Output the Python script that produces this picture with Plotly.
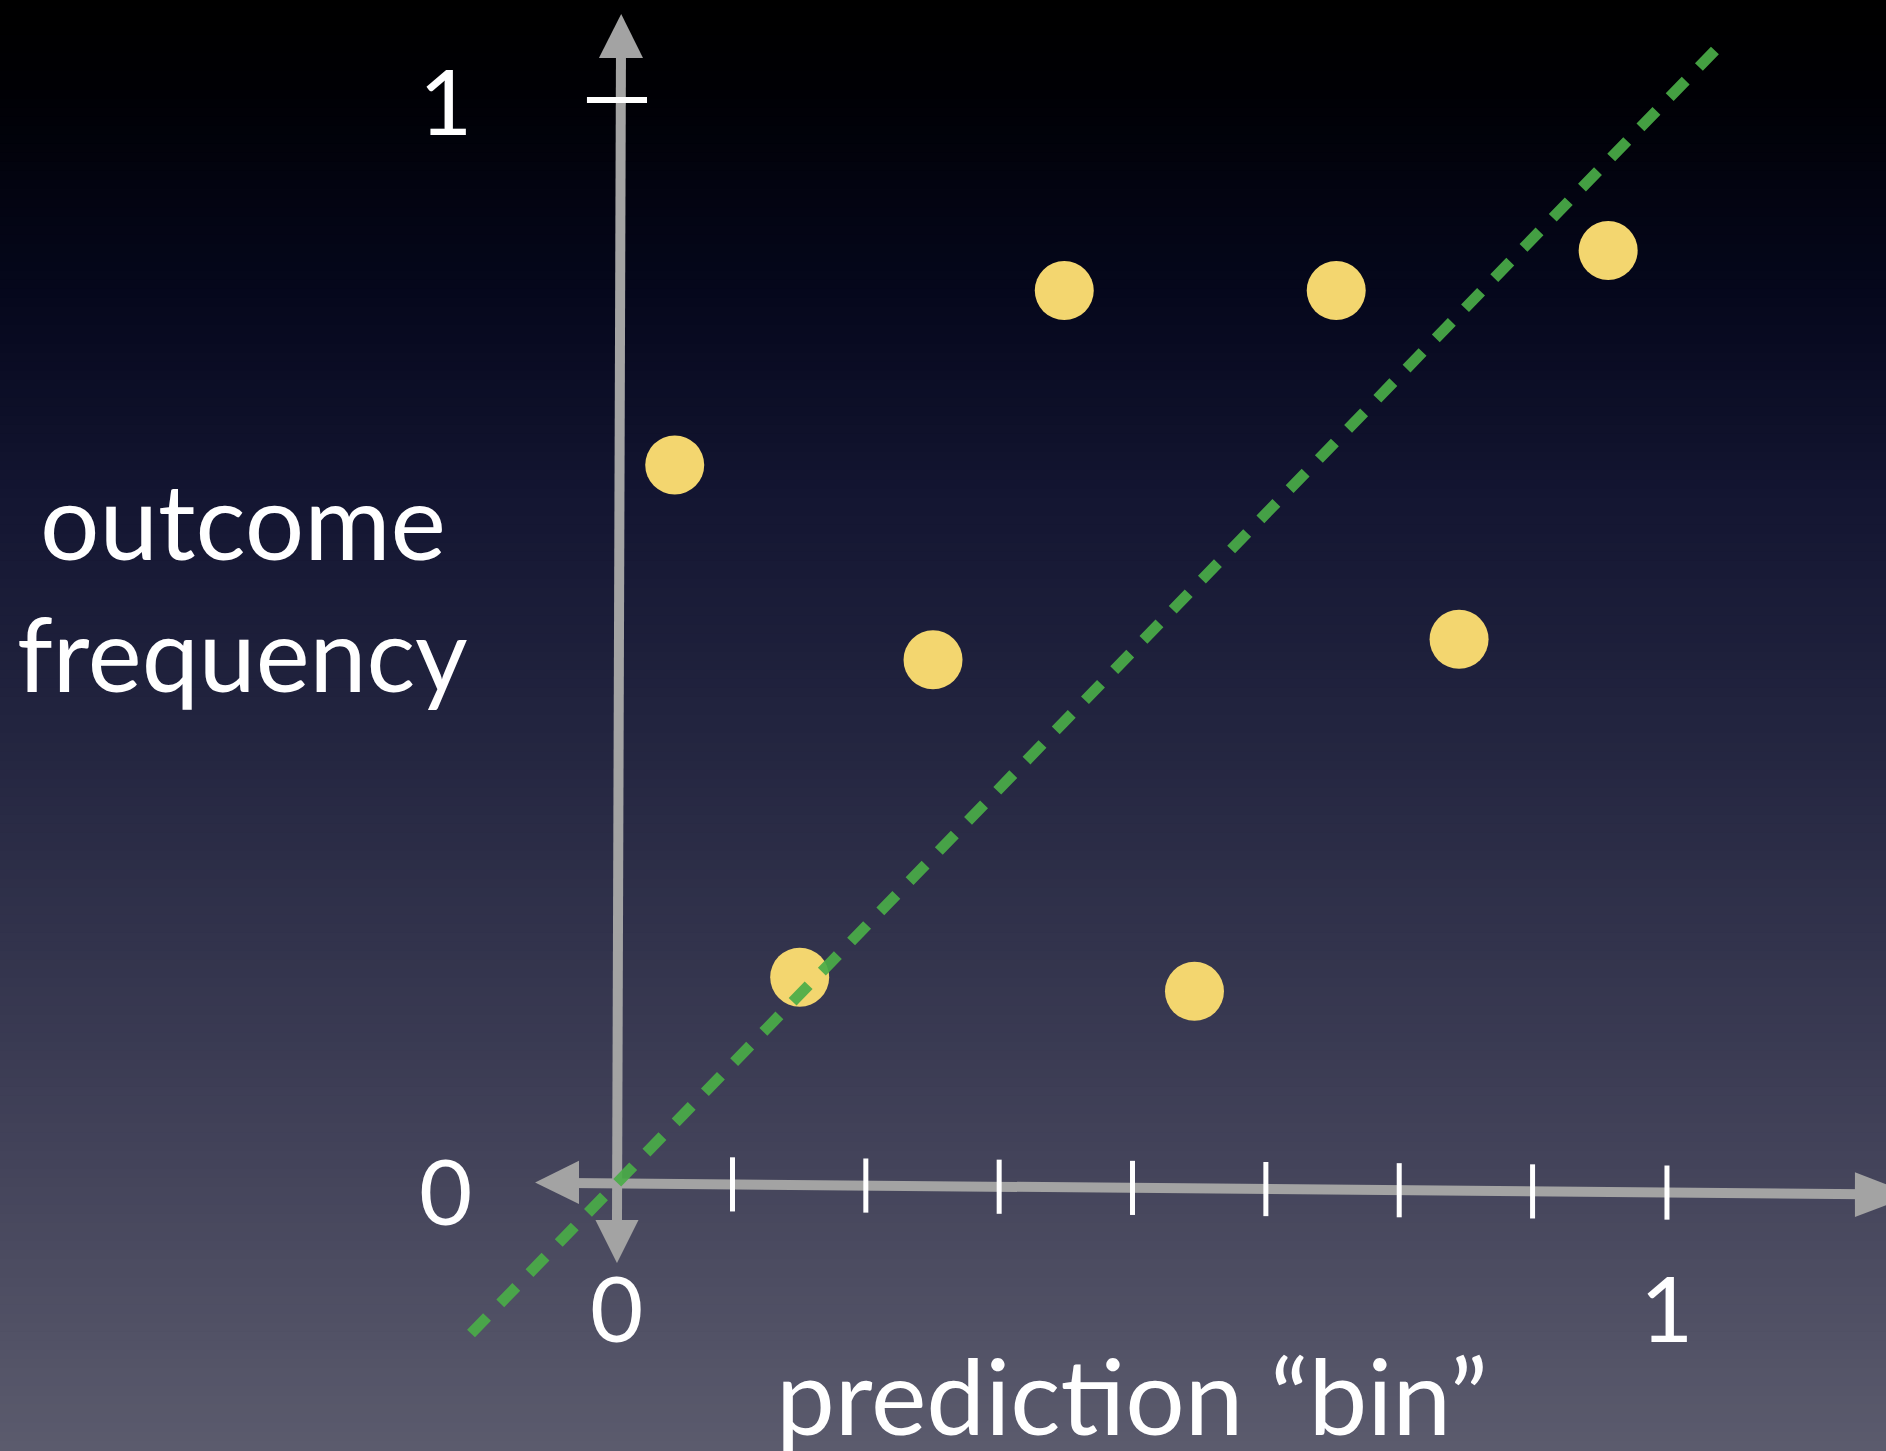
import plotly.graph_objects as go

# ---------------- data ----------------
bin_centers = [0.055, 0.174, 0.301, 0.426, 0.550, 0.685, 0.802, 0.944]
outcome_freq = [0.663, 0.190, 0.483, 0.824, 0.177, 0.824, 0.502, 0.861]
tick_positions = [0.11, 0.237, 0.364, 0.491, 0.618, 0.745, 0.872, 1.0]
diag_x = [-0.139, 1.055]
diag_y = [-0.139, 1.055]
x_title = "prediction “bin”"
y_title_lines = ["outcome", "frequency"]
x_tick_labels = ["0", "1"]
y_tick_labels = ["0", "1"]

W, H = 1886, 1451
X_RANGE = [-0.5876, 1.2086]
Y_RANGE = [-0.2475, 1.0923]
FONT = "Lato, 'Open Sans', sans-serif"
AXIS_GREY = "#a3a3a3"

fig = go.Figure()

# ---------------- gradient background ----------------
stops = [
    (0.00, (0, 0, 0)),
    (0.06, (0, 0, 4)),
    (0.20, (5, 7, 28)),
    (0.35, (20, 22, 50)),
    (0.50, (34, 36, 63)),
    (0.65, (50, 51, 76)),
    (0.80, (67, 67, 90)),
    (1.00, (91, 91, 109)),
]


def grad(t):
    for (t0, c0), (t1, c1) in zip(stops[:-1], stops[1:]):
        if t0 <= t <= t1:
            f = (t - t0) / (t1 - t0) if t1 > t0 else 0
            return tuple(round(a + (b - a) * f) for a, b in zip(c0, c1))
    return stops[-1][1]


shapes = []
N = 160
for i in range(N):
    t = (i + 0.5) / N
    r, g, b = grad(t)
    shapes.append(dict(type="rect", xref="paper", yref="paper",
                       x0=0, x1=1, y0=1 - (i + 1) / N - 0.001, y1=1 - i / N + 0.001,
                       fillcolor=f"rgb({r},{g},{b})", line=dict(width=0), layer="below"))

# ---------------- axes (arrows) ----------------
shapes.append(dict(type="line", x0=-0.045, y0=0.0, x1=1.19, y1=-0.0105,
                   line=dict(color=AXIS_GREY, width=10), layer="below"))
shapes.append(dict(type="line", x0=0.0, y0=-0.04, x1=0.0038, y1=1.045,
                   line=dict(color=AXIS_GREY, width=10), layer="below"))


def tri(pts):
    return "M " + " L ".join(f"{x},{y}" for x, y in pts) + " Z"


shapes.append(dict(type="path", path=tri([(-0.078, 0.0005), (-0.0362, 0.0205), (-0.0362, -0.0195)]),
                   fillcolor=AXIS_GREY, line=dict(width=0), layer="below"))
shapes.append(dict(type="path", path=tri([(1.235, -0.0110), (1.179, 0.0100), (1.179, -0.0315)]),
                   fillcolor=AXIS_GREY, line=dict(width=0), layer="below"))
shapes.append(dict(type="path", path=tri([(0.0040, 1.0794), (-0.0172, 1.0388), (0.0248, 1.0388)]),
                   fillcolor=AXIS_GREY, line=dict(width=0), layer="below"))
shapes.append(dict(type="path", path=tri([(0.0, -0.0739), (-0.0205, -0.0342), (0.0205, -0.0342)]),
                   fillcolor=AXIS_GREY, line=dict(width=0), layer="below"))

for tx in tick_positions:
    yc = -0.0105 * (tx + 0.045) / 1.235
    shapes.append(dict(type="line", x0=tx, x1=tx, y0=yc - 0.025, y1=yc + 0.025,
                       line=dict(color="white", width=5), layer="below"))
shapes.append(dict(type="line", x0=-0.0286, x1=0.0286, y0=1.0, y1=1.0,
                   line=dict(color="white", width=6), layer="below"))

# ---------------- traces ----------------
fig.add_trace(go.Scatter(x=bin_centers, y=outcome_freq, mode="markers",
                         marker=dict(size=59, color="#F3D66F", line=dict(width=0)),
                         hoverinfo="x+y", showlegend=False))
fig.add_trace(go.Scatter(x=diag_x, y=diag_y, mode="lines",
                         line=dict(color="rgba(74,172,72,0.92)", width=11, dash="23px,19px"),
                         hoverinfo="skip", showlegend=False))

# ---------------- text ----------------
ann = []
num_font = dict(family=FONT, size=92, color="white")
ann.append(dict(x=-0.163, y=1.0, text=y_tick_labels[1], showarrow=False,
                font=num_font, xanchor="center", yanchor="middle"))
ann.append(dict(x=-0.163, y=-0.006, text=y_tick_labels[0], showarrow=False,
                font=num_font, xanchor="center", yanchor="middle"))
ann.append(dict(x=0.0, y=-0.1145, text=x_tick_labels[0], showarrow=False,
                font=num_font, xanchor="center", yanchor="middle"))
ann.append(dict(x=1.0, y=-0.1145, text=x_tick_labels[1], showarrow=False,
                font=num_font, xanchor="center", yanchor="middle"))
ann.append(dict(x=0.4905, y=-0.1945, text=x_title, showarrow=False,
                font=dict(family=FONT, size=105, color="white"), xanchor="center", yanchor="middle"))
ann.append(dict(x=(243 - 617) / 1050, y=(1183 - 519) / 1083, text=y_title_lines[0], showarrow=False,
                font=dict(family=FONT, size=105, color="white"), xanchor="center", yanchor="middle"))
ann.append(dict(x=(243 - 617) / 1050, y=(1183 - 653) / 1083, text=y_title_lines[1], showarrow=False,
                font=dict(family=FONT, size=102, color="white"), xanchor="center", yanchor="middle"))

fig.update_layout(
    width=W, height=H,
    margin=dict(l=0, r=0, t=0, b=0, pad=0),
    paper_bgcolor="black", plot_bgcolor="rgba(0,0,0,0)",
    xaxis=dict(range=X_RANGE, visible=False, fixedrange=True),
    yaxis=dict(range=Y_RANGE, visible=False, fixedrange=True),
    shapes=shapes, annotations=ann, showlegend=False,
)

fig.write_html("out.html", config={"displayModeBar": False},
               post_script="document.body.style.margin='0';document.body.style.overflow='hidden';")
